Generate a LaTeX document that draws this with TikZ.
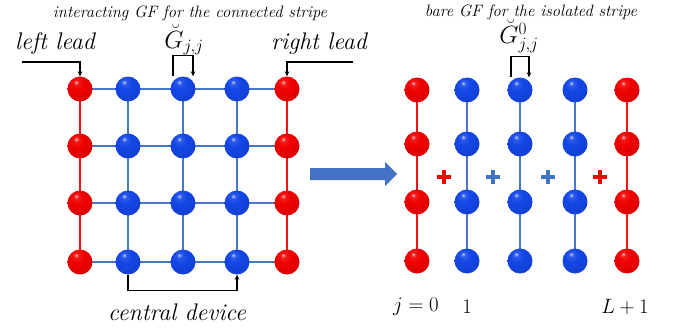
\documentclass[tikz,border=0pt]{standalone}
\usetikzlibrary{arrows.meta}
\definecolor{ballred}{RGB}{240,0,0}
\definecolor{ballblue}{RGB}{20,70,230}
\definecolor{bondblue}{RGB}{70,120,200}
\definecolor{bondred}{RGB}{240,20,20}
\definecolor{arrowblue}{RGB}{68,114,196}
% glossy spheres: bright body, small highlight, darker rim
\pgfdeclareradialshading{redsphere}{\pgfpoint{-8bp}{14bp}}{%
  color(0bp)=(ballred!30!white); color(5bp)=(ballred!90!white);
  color(14bp)=(ballred); color(36bp)=(ballred!90!black);
  color(55bp)=(ballred!65!black); color(75bp)=(ballred!45!black)}
\pgfdeclareradialshading{bluesphere}{\pgfpoint{-8bp}{14bp}}{%
  color(0bp)=(ballblue!30!white); color(5bp)=(ballblue!90!white);
  color(14bp)=(ballblue); color(36bp)=(ballblue!90!black);
  color(55bp)=(ballblue!65!black); color(75bp)=(ballblue!45!black)}
\begin{document}
\begin{tikzpicture}[x=1pt,y=-1pt,
  site/.style={circle,minimum size=25pt,inner sep=0pt},
  redsite/.style={site,shading=redsphere},
  bluesite/.style={site,shading=bluesphere},
  rbond/.style={draw=bondred,line width=1.6pt},
  bbond/.style={draw=bondblue,line width=1.6pt},
  lead/.style={draw=black,line width=1.1pt,-{Stealth[length=5pt,width=4.5pt]}},
  big/.style={inner sep=1pt,font=\fontsize{21}{24}\selectfont},
  gf/.style={inner sep=0pt,font=\fontsize{23}{26}\selectfont},
  label/.style={inner sep=1pt,font=\fontsize{24}{28}\selectfont\itshape},
  caption/.style={inner sep=1pt,font=\fontsize{16.5}{19}\selectfont\itshape},
  plus/.style={line width=4pt}]
\useasboundingbox (0,0) rectangle (685,329);

% connected stripe: 5 columns x 4 rows
\foreach \c/\x in {1/80,2/128,3/183,4/237,5/287}{
  \foreach \r/\y in {1/89,2/146,3/203,4/262}{
    \coordinate (P-\c-\r) at (\x,\y);
  }
}
% bonds first, spheres on top
\foreach \r in {1,2,3,4}{
  \draw[bbond] (P-1-\r) -- (P-5-\r);
}
\foreach \c/\s in {1/rbond,2/bbond,3/bbond,4/bbond,5/rbond}{
  \draw[\s] (P-\c-1) -- (P-\c-4);
}
\foreach \r in {1,2,3,4}{
  \node[redsite] (L-1-\r) at (P-1-\r) {};
  \node[bluesite] (L-2-\r) at (P-2-\r) {};
  \node[bluesite] (L-3-\r) at (P-3-\r) {};
  \node[bluesite] (L-4-\r) at (P-4-\r) {};
  \node[redsite] (L-5-\r) at (P-5-\r) {};
}

% isolated stripes
\foreach \c/\x in {1/417,2/467,3/520,4/575,5/627}{
  \foreach \r/\y in {1/90,2/144,3/202,4/261}{
    \coordinate (Q-\c-\r) at (\x,\y);
  }
}
\foreach \c/\s in {1/rbond,2/bbond,3/bbond,4/bbond,5/rbond}{
  \draw[\s] (Q-\c-1) -- (Q-\c-4);
}
\foreach \r in {1,2,3,4}{
  \node[redsite] (R-1-\r) at (Q-1-\r) {};
  \node[bluesite] (R-2-\r) at (Q-2-\r) {};
  \node[bluesite] (R-3-\r) at (Q-3-\r) {};
  \node[bluesite] (R-4-\r) at (Q-4-\r) {};
  \node[redsite] (R-5-\r) at (Q-5-\r) {};
}

% plus signs between stripes
\foreach \x/\col in {444/ballred,493/arrowblue,548/arrowblue,600/ballred}{
  \draw[plus,\col] (\x-7,177) -- (\x+7,177);
  \draw[plus,\col] (\x,170) -- (\x,184);
}

% block arrow
\fill[arrowblue] (310,168) -- (385,168) -- (385,162) -- (397,174)
  -- (385,186) -- (385,180) -- (310,180) -- cycle;

% captions
\node[caption] (capL) at (190,13) {interacting GF for the connected stripe};
\node[caption] (capR) at (531,12) {bare GF for the isolated stripe};

% lead markers
\node[label] (lefttxt) at (55,44) {left lead};
\node[label] (righttxt) at (319,44) {right lead};
\coordinate (ll) at (22,62);
\coordinate (rl) at (353,62);
\draw[lead] (ll) -| (L-1-1.north);
\draw[lead] (rl) -| (L-5-1.north);

% local Green's functions
\node[gf] (gint) at (184,40) {$\breve{G}_{j,j}$};
\draw[lead] ([xshift=-10pt]L-3-1.north) -- ++(0,-21) -| ([xshift=10pt]L-3-1.north);
\node[gf] (gbare) at (519,36) {$\breve{G}^{0}_{j,j}$};
\draw[lead] ([xshift=-9pt]R-3-1.north) -- ++(0,-21) -| ([xshift=9pt]R-3-1.north);

% central device
\draw[lead] (L-2-4.south) -- ++(0,16) -| (L-4-4.south);
\node[label] (devtxt) at (177,312) {central device};

% column indices
\node[big] (j0) at (416,307) {$j=0$};
\node[big] (j1) at (467,307) {$1$};
\node[big] (jL) at (625,307) {$L+1$};
\end{tikzpicture}
\end{document}
